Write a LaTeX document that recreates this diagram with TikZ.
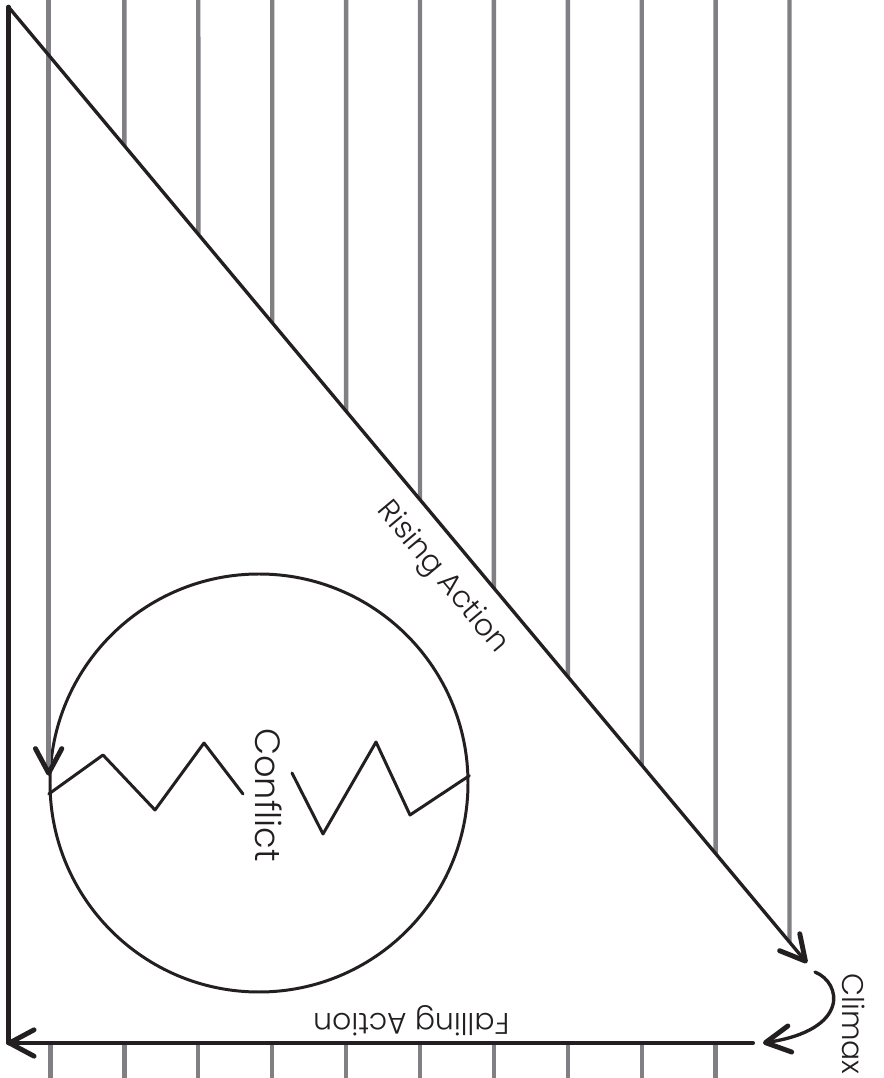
\documentclass[tikz,border=0pt]{standalone}
\usepackage{fontspec}
\setmainfont{Poppins}[UprightFont=* Light]
\usetikzlibrary{arrows.meta,calc}
\definecolor{ink}{HTML}{231F20}
\definecolor{rulegray}{HTML}{808084}
\tikzset{
  plotline/.style={
    draw=ink,
    line width=1.9pt,
    line cap=round,
    line join=round
  },
  hatch/.style={
    draw=rulegray,
    line width=2.5pt
  },
  barbtip/.style={
    -{Straight Barb[length=14pt, width=15pt, line width=2.8pt, round, color=ink]}
  },
  storylabel/.style={
    font=\fontsize{17}{20}\selectfont,
    text=ink,
    inner sep=0pt
  }
}

\begin{document}
\begin{tikzpicture}[x=2cm,y=2cm]

% Background
\fill[white] (0,0) rectangle (8.83,10.78);
\useasboundingbox (0,0) rectangle (8.83,10.78);

% corners of the plot
\coordinate (exposition) at (0.085,10.71);
\coordinate (resolution) at (0.085,0.35);
\coordinate (origin) at (0.07,0.35);
\coordinate (peak) at (8.07,1.15);
\coordinate (turn) at (8.15,1.06);
\coordinate (fallstart) at (7.53,0.35);
\coordinate (fallend) at (7.63,0.35);

% ---------- Hatching ----------
\foreach \k in {1,...,10}{
  \pgfmathsetmacro\hx{0.505+0.739*\k}
  \draw[hatch] (\hx,10.78) -- ($(exposition)!{(\hx-0.085)/(8.07-0.085)}!(peak)$);
}
\foreach \k in {0,...,9}{
  \pgfmathsetmacro\hx{0.505+0.739*\k}
  \draw[hatch] (\hx,0.33) -- (\hx,0);
}

% ---------- Conflict ----------
\node[draw=ink, line width=1.7pt, circle, minimum size=8.36cm, inner sep=0pt] (ring) at (2.59,2.95) {};
\draw[hatch, barbtip] (ring.178 |- 0,10.78) -- (ring.178);

\draw[plotline, line width=1.7pt] (ring.183) -- (1.03,3.23) -- (1.55,2.68) -- (2.04,3.35) -- (2.43,2.84);
\draw[plotline, line width=1.7pt] (2.92,3.05) -- (3.23,2.44) -- (3.76,3.36) -- (4.10,2.63) -- (ring.2);
\node[storylabel, font=\fontsize{20}{24}\selectfont, rotate=-90] (conflict) at (2.69,2.83) {Conflict};

% ---------- Plot line ----------
\draw[plotline, line width=2.6pt] (exposition) -- (resolution);
\draw[plotline, barbtip] (exposition) -- (peak);
\node[storylabel, rotate=-50.13] (rising) at (4.42,5.0) {Rising Action};
\draw[plotline, barbtip] (turn) .. controls (8.42,0.95) and (8.50,0.48) .. (fallend);
\node[storylabel, rotate=-90] (climax) at (8.535,0.54) {Climax};
\draw[plotline, line width=2.3pt, barbtip] (fallstart) -- (origin)
  node[storylabel, sloped, allow upside down, pos=0.458, below=0.1cm] (falling) {Falling Action};

\end{tikzpicture}
\end{document}
